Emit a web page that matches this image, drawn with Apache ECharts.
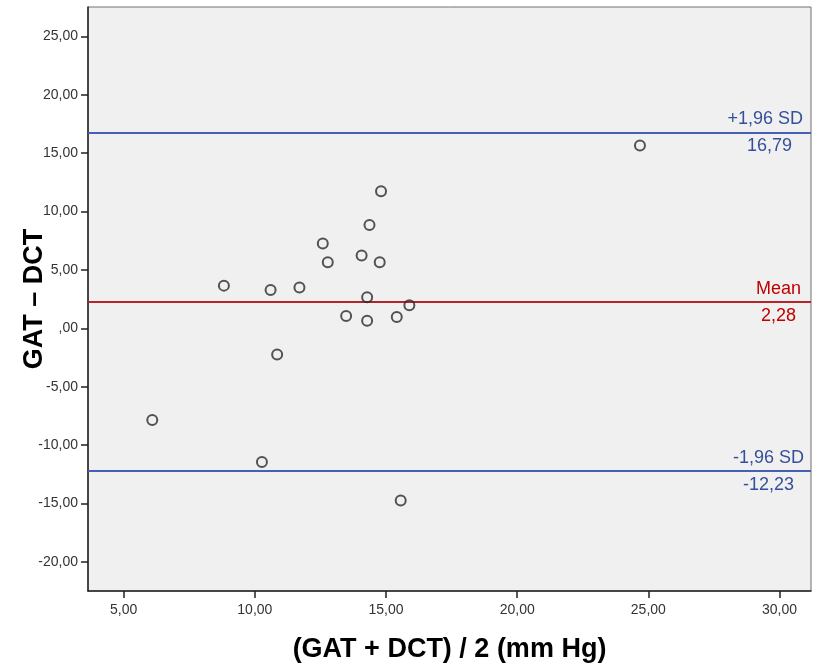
<!DOCTYPE html>
<html>
<head>
<meta charset="utf-8">
<script src="https://cdn.jsdelivr.net/npm/echarts@6/dist/echarts.min.js"></script>
<style>
html,body{margin:0;padding:0;background:#fff;}
#c{width:816px;height:670px;}
</style>
</head>
<body>
<div id="c"></div>
<script>
// Data (Bland–Altman: mean of GAT & DCT vs. difference)
const meanValues = [8.82, 10.60, 11.70, 12.59, 12.78, 14.81, 14.37, 14.07, 14.76, 14.28, 15.89, 13.48, 14.28, 15.41, 10.85, 6.09, 10.27, 15.56, 24.68];
const diffValues = [3.66, 3.29, 3.49, 7.26, 5.66, 11.74, 8.86, 6.23, 5.66, 2.66, 1.97, 1.06, 0.66, 0.98, -2.23, -7.85, -11.45, -14.74, 15.66];
const meanDiff = 2.28;
const upperLoA = 16.79;
const lowerLoA = -12.23;
const xTicks = [5, 10, 15, 20, 25, 30];
const yTicks = [-20, -15, -10, -5, 0, 5, 10, 15, 20, 25];
const xTitle = '(GAT + DCT) / 2 (mm Hg)';
const yTitle = 'GAT \u2013 DCT';

const points = meanValues.map((x, i) => [x, diffValues[i]]);
const fmt = v => {
  if (Math.abs(v) < 1e-9) return ',00';
  return v.toFixed(2).replace('.', ',');
};

const chart = echarts.init(document.getElementById('c'));
const blue = '#4560b6';
const blueText = '#35509a';
const red = '#b5232b';
const redText = '#c00000';
const font = 'Liberation Sans, Arial, sans-serif';

function lineData(y, color, textColor, topText, bottomText, topPad, bottomPad) {
  return [
    {
      yAxis: y,
      lineStyle: { color: color, width: 2.2, type: 'solid' },
      label: { show: true, position: 'insideEndTop', distance: 0, formatter: topText, color: textColor, fontSize: 18, fontFamily: font, padding: [0, topPad, 4, 0] }
    },
    {
      yAxis: y,
      lineStyle: { color: color, width: 2.2, type: 'solid' },
      label: { show: true, position: 'insideEndBottom', distance: 0, formatter: bottomText, color: textColor, fontSize: 18, fontFamily: font, padding: [5, bottomPad, 0, 0] }
    }
  ];
}

chart.setOption({
  animation: false,
  backgroundColor: '#ffffff',
  grid: {
    left: 88, right: 5, top: 7, bottom: 79,
    outerBoundsMode: 'none',
    containLabel: false,
    show: true, backgroundColor: '#f0f0f0', borderColor: '#707070', borderWidth: 1
  },
  xAxis: {
    type: 'value',
    min: 3.64, max: 31.2,
    splitLine: { show: false },
    axisLine: { show: true, onZero: false, lineStyle: { color: '#222', width: 1.5 } },
    axisTick: { show: true, customValues: xTicks, length: 7, lineStyle: { color: '#222', width: 1.5 } },
    axisLabel: { customValues: xTicks, formatter: fmt, color: '#333', fontSize: 14, fontFamily: font, margin: 12 },
    name: xTitle,
    nameLocation: 'middle',
    nameGap: 45,
    nameMoveOverlap: false,
    nameTextStyle: { fontSize: 27, fontWeight: 'bold', color: '#000', fontFamily: font }
  },
  yAxis: {
    type: 'value',
    min: -22.49, max: 27.52,
    splitLine: { show: false },
    axisLine: { show: true, onZero: false, lineStyle: { color: '#222', width: 1.5 } },
    axisTick: { show: true, customValues: yTicks, length: 7, lineStyle: { color: '#222', width: 1.5 } },
    axisLabel: { customValues: yTicks, formatter: fmt, color: '#333', fontSize: 14, fontFamily: font, margin: 10 },
    name: yTitle,
    nameLocation: 'middle',
    nameGap: 40,
    nameMoveOverlap: false,
    nameRotate: 90,
    nameTextStyle: { fontSize: 27, fontWeight: 'bold', color: '#000', fontFamily: font }
  },
  series: [{
    type: 'scatter',
    data: points,
    symbol: 'circle',
    symbolSize: 10,
    itemStyle: { color: 'rgba(0,0,0,0)', borderColor: '#2a2a2a', borderWidth: 2 },
    z: 5,
    markLine: {
      silent: true,
      symbol: ['none', 'none'],
      z: 3,
      data: [
        ...lineData(upperLoA, blue, blueText, '+1,96 SD', fmt(upperLoA), 8, 19),
        ...lineData(meanDiff, red, redText, 'Mean', fmt(meanDiff), 10, 15),
        ...lineData(lowerLoA, blue, blueText, '-1,96 SD', fmt(lowerLoA), 7, 17)
      ]
    }
  }]
});
</script>
</body>
</html>
